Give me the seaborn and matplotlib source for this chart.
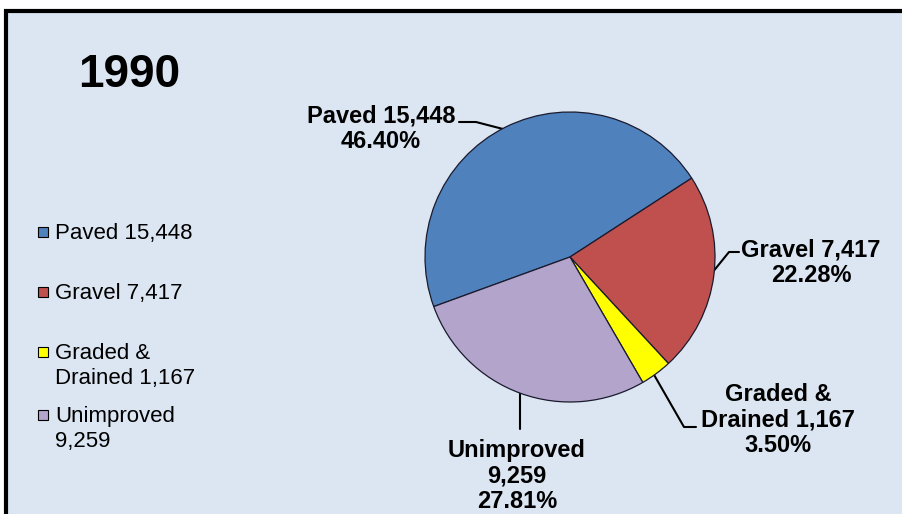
import matplotlib
matplotlib.use("Agg")
import matplotlib.pyplot as plt
import seaborn as sns
from matplotlib.patches import Rectangle

sns.set_theme(style="white")
plt.rcParams['font.family'] = ['Liberation Sans', 'DejaVu Sans']

# ---- data ----
title = "1990"
categories = ["Paved", "Gravel", "Graded &\nDrained", "Unimproved"]
values = [15448, 7417, 1167, 9259]
value_labels = ["15,448", "7,417", "1,167", "9,259"]
percent_labels = ["46.40%", "22.28%", "3.50%", "27.81%"]
colors = ["#4f81bd", "#c0504d", "#ffff00", "#b3a4cb"]
bg = "#dce6f2"

W, H = 902, 514
fig = plt.figure(figsize=(W / 100, H / 100), dpi=100)
fig.patch.set_facecolor("white")

# overlay axes in pixel coordinates (for frame, labels, legend)
ov = fig.add_axes([0, 0, 1, 1])
ov.set_xlim(0, W)
ov.set_ylim(H, 0)
ov.axis("off")
ov.add_patch(Rectangle((6, 11), W + 20, H + 20, facecolor=bg,
                       edgecolor="black", linewidth=3, zorder=0))

# pie axes
cx, cy, r = 570, 257, 145
pax = fig.add_axes([(cx - r) / W, 1 - (cy + r) / H, 2 * r / W, 2 * r / H])
pax.pie(values, colors=colors, startangle=200, counterclock=False,
        wedgeprops=dict(edgecolor="#1a1a2e", linewidth=0.9))
pax.set_xlim(-1, 1)
pax.set_ylim(-1, 1)
pax.set_aspect("auto")
pax.axis("off")
pax.patch.set_alpha(0)

# title
ov.text(129, 75, title, fontsize=33, fontweight="bold", ha="center",
        va="center", color="black")

# data labels
lab_pos = [(381, 129), (811, 263), (778, 420), (517, 476)]
for cat, vl, pl, (x, y) in zip(categories, value_labels, percent_labels, lab_pos):
    if cat == "Unimproved":
        txt = f"{cat}\n{vl}\n{pl}"
    else:
        txt = f"{cat} {vl}\n{pl}"
    ov.text(x, y, txt, fontsize=17, fontweight="bold", ha="center",
            va="center", linespacing=1.12, color="black")

# leader lines
leaders = [
    [(459, 122), (476, 122), (503, 129)],
    [(739, 252), (729, 252), (712, 273)],
    [(653, 373), (684, 427), (696, 427)],
    [(520, 392), (520, 429)],
]
for pts in leaders:
    xs, ys = zip(*pts)
    ov.plot(xs, ys, color="black", linewidth=1.5)

# legend
leg_rows = [(232, f"{categories[0]} {value_labels[0]}"),
            (292, f"{categories[1]} {value_labels[1]}"),
            (352, f"Graded &\nDrained {value_labels[2]}"),
            (415, f"{categories[3]}\n{value_labels[3]}")]
for (y, txt), c in zip(leg_rows, colors):
    ov.add_patch(Rectangle((38, y - 5), 10, 10, facecolor=c,
                           edgecolor="black", linewidth=0.8))
    ov.text(55, y - 9, txt, fontsize=16, ha="left", va="top",
            linespacing=1.25, color="black")

fig.savefig("out.png", dpi=100)
